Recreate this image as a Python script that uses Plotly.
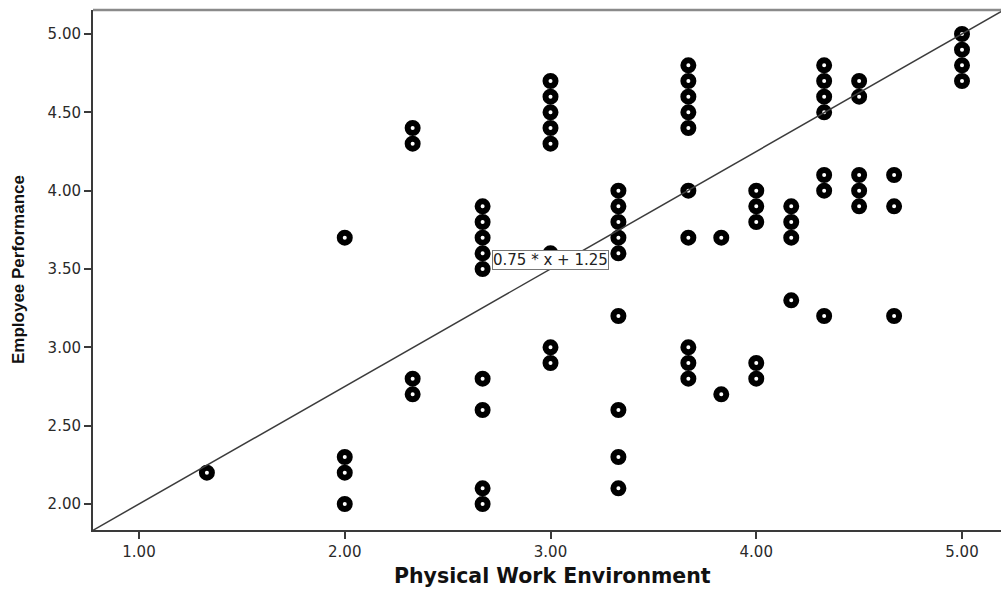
import plotly.graph_objects as go

# Physical Work Environment score for each column of respondents
column_x = [1.33, 2.00, 2.33, 2.67, 3.00, 3.33, 3.67, 3.83, 4.00, 4.17, 4.33, 4.50, 4.67, 5.00]
# Employee Performance scores observed at each of those x values
column_y = [
    [2.2],
    [3.7, 2.3, 2.2, 2.0],
    [4.4, 4.3, 2.8, 2.7],
    [3.9, 3.8, 3.7, 3.6, 3.5, 2.8, 2.6, 2.1, 2.0],
    [4.7, 4.6, 4.5, 4.4, 4.3, 3.6, 3.0, 2.9],
    [4.0, 3.9, 3.8, 3.7, 3.6, 3.2, 2.6, 2.3, 2.1],
    [4.8, 4.7, 4.6, 4.5, 4.4, 4.0, 3.7, 3.0, 2.9, 2.8],
    [3.7, 2.7],
    [4.0, 3.9, 3.8, 2.9, 2.8],
    [3.9, 3.8, 3.7, 3.3],
    [4.8, 4.7, 4.6, 4.5, 4.1, 4.0, 3.2],
    [4.7, 4.6, 4.1, 4.0, 3.9],
    [4.1, 3.9, 3.2],
    [5.0, 4.9, 4.8, 4.7],
]

# Fitted line y = slope * x + intercept
slope = 0.75
intercept = 1.25

x_ticks = [1.0, 2.0, 3.0, 4.0, 5.0]
y_ticks = [2.0, 2.5, 3.0, 3.5, 4.0, 4.5, 5.0]
x_range = [0.7764, 5.1895]
y_range = [1.834, 5.153]

xs, ys = [], []
for xv, col in zip(column_x, column_y):
    for yv in col:
        xs.append(xv)
        ys.append(yv)

AXIS = "#3a3a3a"
TEXT = "#2a2a2a"

fig = go.Figure()
fig.add_trace(go.Scatter(
    x=xs, y=ys, mode="markers",
    marker=dict(symbol="circle", size=10, color="white",
                line=dict(color="black", width=6)),
    hoverinfo="x+y", showlegend=False,
))

fit_x = [0.0, 6.0]
fit_y = [slope * v + intercept for v in fit_x]
fig.add_trace(go.Scatter(
    x=fit_x, y=fit_y, mode="lines",
    line=dict(color="#3c3c3c", width=1.5),
    hoverinfo="skip", showlegend=False,
))

label_x = 3.0
fig.add_annotation(
    x=label_x, y=slope * label_x + intercept, xref="x", yref="y",
    text=f"{slope:.2f} * x + {intercept:.2f}",
    showarrow=False, yanchor="bottom", yshift=-1,
    font=dict(family="DejaVu Sans, sans-serif", size=15, color="#222"),
    bgcolor="white", bordercolor="#777", borderwidth=1, borderpad=0,
)

# Axis titles
fig.add_annotation(
    x=(552 - 93) / 908, y=-(576 - 530) / 520, xref="paper", yref="paper",
    text="<b>Physical Work Environment</b>", showarrow=False,
    xanchor="center", yanchor="middle",
    font=dict(family="DejaVu Sans, sans-serif", size=20.5, color="#111"),
)
fig.add_annotation(
    x=-(93 - 18) / 908, y=(530 - 270) / 520, xref="paper", yref="paper",
    text="<b>Employee Performance</b>", showarrow=False, textangle=-90,
    xanchor="center", yanchor="middle",
    font=dict(family="Liberation Sans Narrow, Liberation Sans, Arial, sans-serif", size=17, color="#111"),
)

# Top frame edge
fig.add_shape(type="line", xref="paper", yref="paper", x0=0, x1=1, y0=1, y1=1,
              line=dict(color="#8a8a8a", width=2.5))

fig.update_xaxes(
    range=x_range, tickvals=x_ticks, ticktext=[f"{v:.2f}" for v in x_ticks],
    showgrid=False, zeroline=False, showline=True, linecolor=AXIS, linewidth=2,
    ticks="outside", ticklen=7, tickwidth=2, tickcolor=AXIS,
    tickfont=dict(family="DejaVu Sans, sans-serif", size=15, color=TEXT),
)
fig.update_yaxes(
    range=y_range, tickvals=y_ticks, ticktext=[f"{v:.2f}" for v in y_ticks],
    showgrid=False, zeroline=False, showline=True, linecolor=AXIS, linewidth=2,
    ticks="outside", ticklen=7, tickwidth=2, tickcolor=AXIS,
    tickfont=dict(family="DejaVu Sans, sans-serif", size=15, color=TEXT),
)

fig.update_layout(
    width=1001, height=589,
    margin=dict(l=93, r=0, t=10, b=59),
    paper_bgcolor="white", plot_bgcolor="white",
)

fig.write_html("out.html")
